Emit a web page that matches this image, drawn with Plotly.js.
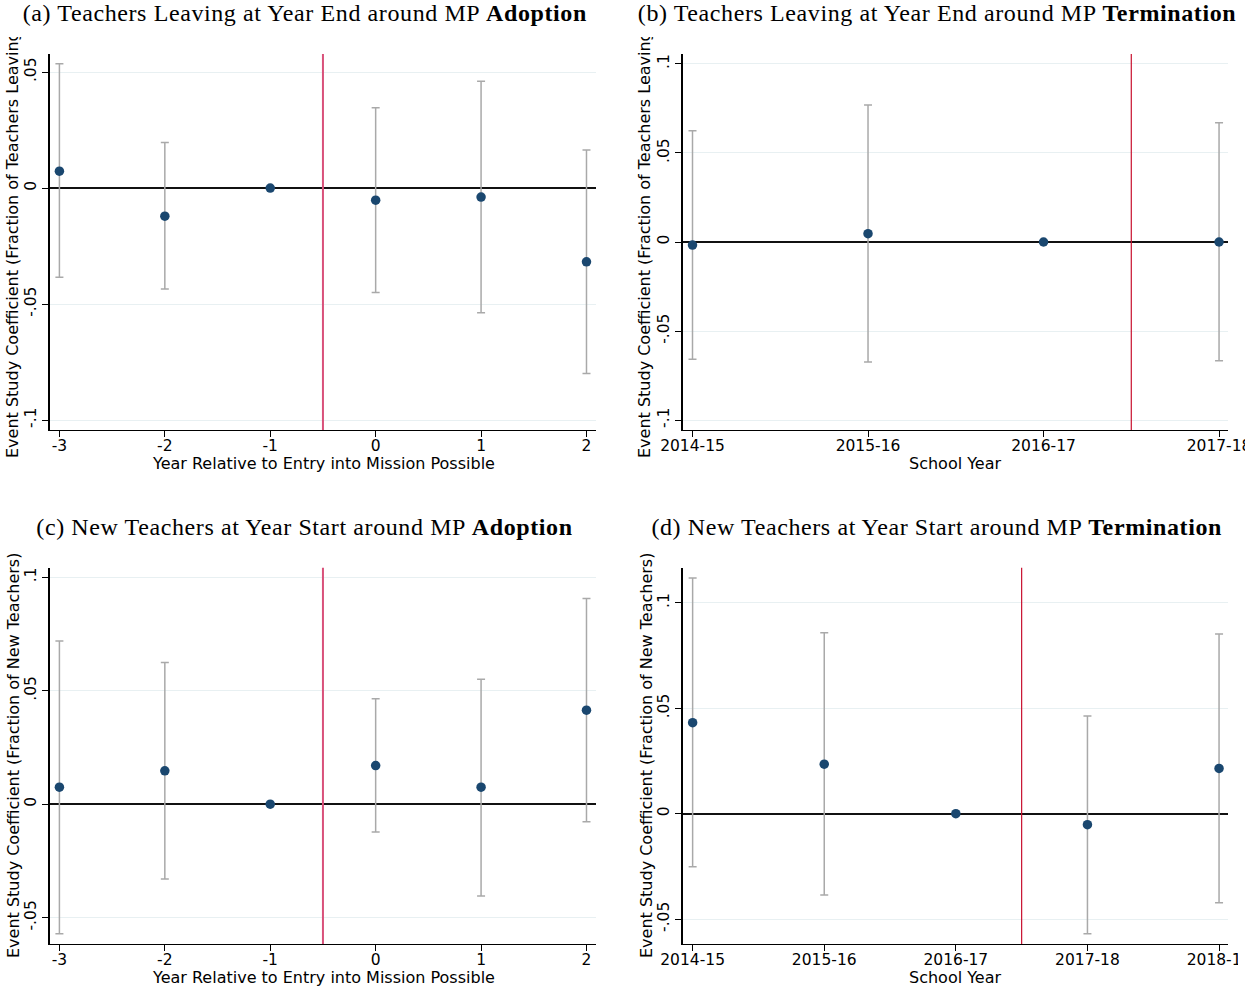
<!DOCTYPE html>
<html>
<head>
<meta charset="utf-8">
<script src="https://cdn.plot.ly/plotly-3.0.1.min.js"></script>
<style>
  html, body { margin: 0; padding: 0; background: #fff; }
  #wrap { position: relative; width: 1259px; height: 989px; overflow: hidden; }
  #chart { width: 1259px; height: 989px; }
  .crop { position: absolute; background: #fff; }
  g.annotation[data-index="0"] text,
  g.annotation[data-index="1"] text,
  g.annotation[data-index="2"] text,
  g.annotation[data-index="3"] text { letter-spacing: 0.6px; }
</style>
</head>
<body>
<div id="wrap">
  <div id="chart"></div>
  <div class="crop" style="left:1245px; top:0; width:14px; height:500px;"></div>
  <div class="crop" style="left:1238px; top:500px; width:21px; height:489px;"></div>
  <div class="crop" style="left:0; top:25px; width:22px; height:12px;"></div>
  <div class="crop" style="left:631px; top:26px; width:26px; height:11px;"></div>
</div>
<script>
// ---------- data ----------
const relYears = [-3, -2, -1, 0, 1, 2];
const relYearLabels = ["-3", "-2", "-1", "0", "1", "2"];
const schoolYearsLeave = ["2014-15", "2015-16", "2016-17", "2017-18"];
const schoolYearsNew = ["2014-15", "2015-16", "2016-17", "2017-18", "2018-19"];

// (a) Teachers leaving, adoption
const leaveAdoptCoef = [0.0073, -0.0121, 0, -0.0052, -0.0039, -0.0318];
const leaveAdoptHi   = [0.0536, 0.0197, null, 0.0346, 0.0461, 0.0164];
const leaveAdoptLo   = [-0.0385, -0.0435, null, -0.0450, -0.0537, -0.0799];

// (b) Teachers leaving, termination
const leaveTermCoef = [-0.0017, 0.0047, 0, 0.0];
const leaveTermHi   = [0.0625, 0.0770, null, 0.0670];
const leaveTermLo   = [-0.0659, -0.0674, null, -0.0667];

// (c) New teachers, adoption
const newAdoptCoef = [0.0075, 0.0147, 0, 0.0170, 0.0075, 0.0414];
const newAdoptHi   = [0.0719, 0.0624, null, 0.0465, 0.0551, 0.0906];
const newAdoptLo   = [-0.0571, -0.0330, null, -0.0123, -0.0404, -0.0077];

// (d) New teachers, termination
const newTermCoef = [0.0432, 0.0235, 0, -0.0052, 0.0215];
const newTermHi   = [0.1118, 0.0858, null, 0.0464, 0.0853];
const newTermLo   = [-0.0252, -0.0386, null, -0.0569, -0.0422];

const yTicksA = [-0.1, -0.05, 0, 0.05];
const yTickTextA = ["-.1", "-.05", "0", ".05"];
const yTicksB = [-0.1, -0.05, 0, 0.05, 0.1];
const yTickTextB = ["-.1", "-.05", "0", ".05", ".1"];
const yTicksCD = [-0.05, 0, 0.05, 0.1];
const yTickTextCD = ["-.05", "0", ".05", ".1"];

const titles = [
  "(a) Teachers Leaving at Year End around MP <b>Adoption</b>",
  "(b) Teachers Leaving at Year End around MP <b>Termination</b>",
  "(c) New Teachers at Year Start around MP <b>Adoption</b>",
  "(d) New Teachers at Year Start around MP <b>Termination</b>"
];
const yTitleLeave = "Event Study Coefficient (Fraction of Teachers Leaving)";
const yTitleNew = "Event Study Coefficient (Fraction of New Teachers)";
const xTitleRel = "Year Relative to Entry into Mission Possible";
const xTitleSchool = "School Year";

// ---------- styling ----------
const W = 1259, H = 989;
const px = v => v / W;
const py = v => 1 - v / H;
const NAVY = "#1a476f";
const GREY = "#a9a9a9";
const SANS = "DejaVu Sans";
const FS = 16;
const TFS = 15.5;
const SERIF = "Liberation Serif";

function errs(coef, hi, lo) {
  const plus = coef.map((c, i) => hi[i] == null ? null : hi[i] - c);
  const minus = coef.map((c, i) => lo[i] == null ? null : c - lo[i]);
  return {plus, minus};
}

function trace(x, coef, hi, lo, xa, ya) {
  const e = errs(coef, hi, lo);
  return {
    type: "scatter", mode: "markers", x: x, y: coef, xaxis: xa, yaxis: ya,
    marker: {color: NAVY, size: 9.5},
    error_y: {type: "data", symmetric: false, array: e.plus, arrayminus: e.minus,
              color: GREY, thickness: 1.5, width: 4},
    hoverinfo: "x+y", cliponaxis: false
  };
}

const data = [
  trace(relYears, leaveAdoptCoef, leaveAdoptHi, leaveAdoptLo, "x", "y"),
  trace(schoolYearsLeave, leaveTermCoef, leaveTermHi, leaveTermLo, "x2", "y2"),
  trace(relYears, newAdoptCoef, newAdoptHi, newAdoptLo, "x3", "y3"),
  trace(schoolYearsNew, newTermCoef, newTermHi, newTermLo, "x4", "y4")
];

function xaxisBase(domain, range, anchor) {
  return {
    domain: domain, range: range, anchor: anchor,
    ticks: "outside", ticklen: 6, tickwidth: 1, tickcolor: "#000",
    ticklabelstandoff: -5,
    showline: true, linecolor: "#000", linewidth: 1.3,
    showgrid: false, zeroline: false,
    tickfont: {family: SANS, size: TFS, color: "#000"}
  };
}
function yaxisBase(domain, range, anchor, tv, tt) {
  return {
    domain: domain, range: range, anchor: anchor,
    tickmode: "array", tickvals: tv, ticktext: tt, tickangle: -90,
    ticks: "outside", ticklen: 6, tickwidth: 1, tickcolor: "#000",
    showline: true, linecolor: "#000", linewidth: 1.3,
    showgrid: true, gridcolor: "#e8f0f2", gridwidth: 1,
    zeroline: true, zerolinecolor: "#111", zerolinewidth: 1.8,
    tickfont: {family: SANS, size: TFS, color: "#000"}
  };
}

const xDomL = [px(49.5), px(596.4)];
const xDomR = [px(682.5), px(1228)];
const yDomT = [py(430), py(54)];
const yDomB = [py(944), py(567.7)];

function titleAnn(text, x, y) {
  return {text: text, xref: "paper", yref: "paper", x: px(x), y: py(y), xanchor: "center", yanchor: "middle",
          showarrow: false, font: {family: SERIF, size: 24, color: "#000"}};
}
function yTitleAnn(text, x, y) {
  return {text: text, xref: "paper", yref: "paper", x: px(x), y: py(y), textangle: -90,
          xanchor: "center", yanchor: "middle", showarrow: false, font: {family: SANS, size: FS, color: "#000"}};
}
function xTitleAnn(text, x, y) {
  return {text: text, xref: "paper", yref: "paper", x: px(x), y: py(y),
          xanchor: "center", yanchor: "middle", showarrow: false, font: {family: SANS, size: FS, color: "#000"}};
}

const layout = {
  width: W, height: H,
  margin: {l: 0, r: 0, t: 0, b: 0},
  paper_bgcolor: "#fff", plot_bgcolor: "#fff",
  showlegend: false,
  font: {family: SANS, size: FS, color: "#000"},
  xaxis: Object.assign(xaxisBase(xDomL, [-3.094, 2.094], "y"),
                       {tickmode: "array", tickvals: relYears, ticktext: relYearLabels}),
  yaxis: yaxisBase(yDomT, [-0.1043, 0.0578], "x", yTicksA, yTickTextA),
  xaxis2: Object.assign(xaxisBase(xDomR, [-0.057, 3.051], "y2"),
                        {type: "category", categoryorder: "array", categoryarray: schoolYearsLeave}),
  yaxis2: yaxisBase(yDomT, [-0.1056, 0.1056], "x2", yTicksB, yTickTextB),
  xaxis3: Object.assign(xaxisBase(xDomL, [-3.094, 2.094], "y3"),
                        {tickmode: "array", tickvals: relYears, ticktext: relYearLabels}),
  yaxis3: yaxisBase(yDomB, [-0.0616, 0.1042], "x3", yTicksCD, yTickTextCD),
  xaxis4: Object.assign(xaxisBase(xDomR, [-0.077, 4.068], "y4"),
                        {type: "category", categoryorder: "array", categoryarray: schoolYearsNew}),
  yaxis4: yaxisBase(yDomB, [-0.0618, 0.1167], "x4", yTicksCD, yTickTextCD),
  shapes: [
    {type: "line", xref: "x", yref: "y domain", x0: -0.5, x1: -0.5, y0: 0, y1: 1,
     line: {color: "#d9517a", width: 2}},
    {type: "line", xref: "x2", yref: "y2 domain", x0: 2.5, x1: 2.5, y0: 0, y1: 1,
     line: {color: "#c8102e", width: 1.2}},
    {type: "line", xref: "x3", yref: "y3 domain", x0: -0.5, x1: -0.5, y0: 0, y1: 1,
     line: {color: "#d9517a", width: 2}},
    {type: "line", xref: "x4", yref: "y4 domain", x0: 2.5, x1: 2.5, y0: 0, y1: 1,
     line: {color: "#c8102e", width: 1.2}}
  ],
  annotations: [
    titleAnn(titles[0], 305, 13),
    titleAnn(titles[1], 937, 13),
    titleAnn(titles[2], 304, 527),
    titleAnn(titles[3], 936, 527),
    yTitleAnn(yTitleLeave, 13, 242),
    yTitleAnn(yTitleLeave, 645, 242),
    yTitleAnn(yTitleNew, 13, 756),
    yTitleAnn(yTitleNew, 646, 756),
    xTitleAnn(xTitleRel, 323, 463),
    xTitleAnn(xTitleSchool, 955, 463),
    xTitleAnn(xTitleRel, 323, 977),
    xTitleAnn(xTitleSchool, 955, 977)
  ]
};

Plotly.newPlot("chart", data, layout, {staticPlot: true, displayModeBar: false});
</script>
</body>
</html>
